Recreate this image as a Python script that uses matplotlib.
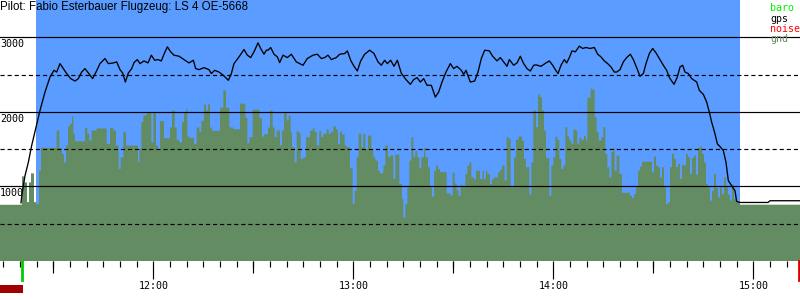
import matplotlib
matplotlib.use("Agg")
import matplotlib.pyplot as plt
from matplotlib.ticker import FixedLocator, MultipleLocator
from matplotlib.transforms import offset_copy

# Zeitachse: Minuten nach 11:00 Uhr
title = "Pilot: Fabio Esterbauer Flugzeug: LS 4 OE-5668"
x_range = (14.0, 254.0)
hour_ticks = [60, 120, 180, 240]
hour_labels = ["12:00", "13:00", "14:00", "15:00"]
half_hour_ticks = [30, 90, 150, 210]
y_max = 3500
solid_levels = [1000, 2000, 3000]
dashed_levels = [500, 1500, 2500]
flight_window = (24.8, 236.0)
takeoff_t = 20.6
landing_t = 253.6
pre_flight_bar = (14.0, 20.9)

legend_names = ["baro", "gps", "noise", "gnd"]
legend_colors = ["#00ee00", "#000000", "#ff0000", "#638c63"]

# Barometrische Hoehe
baro_t = [20.3, 20.6, 21.5, 22.5, 23.5, 24.8, 26.0, 27.5, 29.0, 30.2, 31.0, 32.0, 33.0, 34.0,
          35.2, 36.5, 37.5, 38.5, 39.5, 40.5, 41.8, 42.8, 44.0, 45.5, 46.5, 48.0, 49.0, 50.0,
          50.8, 51.6, 52.5, 53.5, 54.2, 55.2, 56.0, 57.2, 58.4, 59.4, 60.4, 61.4, 62.4, 63.2,
          64.2, 65.2, 66.2, 67.7, 69.2, 70.7, 72.0, 72.7, 73.7, 75.2, 76.7, 77.4, 78.4, 79.7,
          81.0, 82.5, 83.4, 84.2, 85.7, 87.2, 88.2, 89.2, 90.2, 91.4, 92.2, 93.2, 93.9, 94.4,
          95.2, 96.2, 97.2, 97.9, 98.9, 100.2, 101.4, 102.9, 104.9, 106.2, 107.9, 109.2, 110.4,
          111.4, 112.4, 113.4, 114.9, 115.9, 117.4, 118.2, 119.2, 120.2, 121.2, 122.2, 123.4,
          124.9, 126.2, 127.4, 128.4, 129.4, 130.2, 131.2, 132.2, 133.2, 134.4, 135.8, 137.1,
          138.1, 139.1, 140.1, 141.1, 142.1, 143.4, 144.6, 145.6, 146.6, 147.8, 149.1, 150.1,
          151.1, 152.4, 153.1, 153.8, 155.1, 156.4, 157.4, 158.4, 159.4, 160.8, 161.8, 163.1,
          164.1, 165.1, 166.1, 166.8, 168.1, 169.1, 170.1, 171.1, 172.1, 173.1, 174.1, 174.8,
          176.3, 177.8, 178.8, 179.8, 180.6, 181.4, 182.3, 183.3, 184.0, 184.8, 185.6, 186.6,
          187.8, 188.8, 189.8, 191.0, 192.3, 193.3, 194.3, 195.3, 196.3, 197.3, 198.3, 199.0,
          200.0, 201.0, 202.0, 203.1, 204.0, 205.0, 206.0, 207.0, 207.8, 208.8, 209.8, 210.8,
          212.0, 213.0, 214.0, 214.8, 216.2, 217.2, 218.0, 218.8, 219.5, 220.5, 221.5, 223.0,
          223.8, 225.0, 226.0, 226.8, 227.5, 228.5, 229.2, 230.0, 231.0, 231.8, 232.5, 233.5,
          234.5, 235.0, 236.0, 244.4, 245.0, 254.0]
baro_alt = [780, 898, 1144, 1323, 1548, 1794, 2019, 2265, 2467, 2557, 2534, 2647, 2580, 2513,
            2446, 2413, 2446, 2534, 2580, 2521, 2446, 2534, 2647, 2715, 2647, 2656, 2670, 2566,
            2521, 2400, 2521, 2580, 2660, 2701, 2647, 2683, 2656, 2760, 2692, 2701, 2683, 2773,
            2872, 2805, 2760, 2746, 2701, 2656, 2692, 2580, 2566, 2593, 2566, 2513, 2557, 2534,
            2490, 2423, 2513, 2647, 2737, 2836, 2760, 2728, 2805, 2925, 2850, 2773, 2827, 2827,
            2863, 2773, 2737, 2661, 2760, 2728, 2773, 2670, 2625, 2715, 2760, 2773, 2715,
            2728, 2760, 2701, 2728, 2773, 2782, 2818, 2692, 2611, 2548, 2683, 2773,
            2827, 2782, 2670, 2625, 2692, 2647, 2692, 2611, 2692, 2517, 2432, 2369,
            2432, 2459, 2400, 2446, 2356, 2356, 2198, 2265, 2400, 2534, 2647, 2580,
            2611, 2557, 2503, 2557, 2400, 2413, 2534, 2715, 2827, 2818, 2746, 2683,
            2728, 2670, 2611, 2701, 2625, 2656, 2746, 2647, 2580, 2548, 2625, 2630,
            2611, 2656, 2683, 2625, 2566, 2513, 2625, 2701, 2656, 2728, 2818, 2805,
            2881, 2850, 2863, 2850, 2863, 2773, 2737, 2683, 2647, 2602, 2534, 2534,
            2566, 2670, 2728, 2773, 2701, 2593, 2477, 2513, 2647, 2782, 2850, 2791,
            2701, 2625, 2557, 2460, 2369, 2467, 2602, 2625, 2534, 2513, 2446, 2400,
            2288, 2234, 2131, 1996, 1862, 1705, 1571, 1534, 1480, 1323, 1077, 1010,
            942, 798, 785, 785, 808, 808]

# Gelaendehoehe (Stufen, jeweils ab Zeitpunkt)
gnd_t = [14.0, 20.6, 21.2, 22.1, 22.7, 23.3, 24.2, 24.8, 25.7, 26.3, 31.0, 31.8, 32.6, 33.2,
         33.8, 34.4, 35.0, 35.6, 36.0, 36.5, 39.5, 40.2, 40.8, 41.5, 43.0, 46.0, 47.0, 48.0,
         48.8, 49.6, 50.2, 51.0, 51.8, 54.2, 55.4, 55.8, 56.4, 57.0, 58.0, 59.4, 60.0, 60.8,
         61.4, 62.0, 63.2, 65.0, 65.6, 66.4, 67.0, 67.8, 68.6, 69.2, 69.8, 70.2, 70.8, 72.2,
         73.0, 73.8, 74.4, 75.2, 75.8, 76.4, 77.0, 77.6, 80.0, 81.0, 81.8, 82.8, 84.0, 86.0,
         87.6, 88.2, 88.8, 89.8, 91.8, 92.6, 93.2, 94.4, 95.0, 95.8, 96.4, 97.0, 98.0, 98.6,
         99.2, 100.0, 100.6, 101.2, 101.6, 102.4, 103.0, 103.6, 104.2, 105.0, 105.8, 107.0,
         107.8, 108.4, 109.0, 109.8, 110.4, 111.0, 112.0, 112.6, 113.2, 114.0, 114.8, 115.4,
         116.0, 116.6, 117.4, 118.0, 119.0, 119.8, 120.4, 121.0, 121.6, 122.4, 123.0, 123.6,
         124.4, 125.4, 126.0, 126.6, 127.4, 128.0, 129.0, 129.6, 130.4, 131.0, 132.0, 132.6,
         133.8, 134.6, 135.0, 135.6, 136.2, 136.8, 137.4, 138.0, 138.6, 139.2, 139.8, 140.4,
         141.2, 141.6, 142.4, 143.0, 143.6, 144.2, 144.8, 145.4, 146.0, 148.0, 149.2, 149.8,
         150.4, 151.0, 151.6, 152.2, 152.8, 153.6, 154.2, 154.8, 155.4, 156.2, 156.8, 158.0,
         158.8, 159.2, 159.8, 160.2, 161.0, 161.6, 162.2, 163.4, 164.0, 164.6, 165.4, 166.0,
         166.6, 167.2, 168.2, 168.8, 169.6, 170.6, 171.2, 171.8, 172.8, 173.4, 174.0, 174.8,
         175.4, 176.0, 176.6, 177.2, 177.8, 178.8, 179.4, 180.0, 180.6, 181.2, 181.8, 182.4,
         183.0, 183.6, 184.2, 184.8, 185.4, 186.0, 186.6, 187.2, 187.8, 188.4, 189.2, 189.8,
         190.2, 191.2, 191.8, 192.4, 193.0, 193.6, 194.4, 195.0, 195.6, 196.2, 196.8, 197.4,
         198.0, 198.4, 199.0, 199.8, 200.6, 203.0, 203.6, 204.2, 204.8, 205.4, 206.0, 206.6,
         209.6, 210.2, 210.8, 211.4, 212.0, 212.6, 213.2, 213.8, 214.4, 215.0, 215.6, 216.2,
         216.8, 217.4, 218.0, 218.6, 219.2, 219.8, 220.4, 221.0, 221.6, 222.2, 222.8, 223.4,
         224.0, 224.6, 225.2, 225.8, 226.4, 227.0, 227.6, 228.2, 228.8, 229.4, 230.0, 230.6,
         231.2, 231.8, 232.4, 233.0, 233.6, 234.2, 234.8, 236.0, 254.0]
gnd_alt = [754, 1135, 1054, 790, 1054, 1175, 790, 763, 1211, 1517, 1750, 1517, 1436, 1323,
           1548, 1804, 1840, 1938, 1705, 1606, 1786, 1705, 1615, 1750, 1777, 1570, 1786, 1750,
           1548, 1234, 1391, 1727, 1548, 1548, 1323, 1503, 1862, 1952, 1983, 1592, 1996, 1548,
           1503, 1875, 1646, 1790, 2019, 1790, 1624, 1592, 1862, 1983, 2037, 1669, 1651, 1570,
           1790, 1732, 1880, 2100, 2019, 2100, 1790, 1745, 2055, 2288, 2055, 1790, 1767, 2109,
           1920, 1579, 1660, 2028, 1920, 1669, 1700, 1790, 2019, 1790, 1660, 1750, 1548, 1750,
           1996, 1884, 1952, 1727, 1525, 1323, 1741, 1714, 1369, 1391, 1660, 1745,
           1777, 1732, 1548, 1740, 1660, 1705, 1767, 1705, 1732, 1804, 1763, 1570,
           1732, 1696, 1548, 1525, 1248, 763, 942, 1391, 1705, 1525, 1705, 1503,
           1682, 1503, 1391, 1346, 1211, 1175, 1279, 1548, 1391, 1413, 1099, 1427,
           1032, 830, 583, 763, 987, 1346, 1660, 1391, 1471, 1391, 1248, 1391,
           1517, 1391, 1257, 987, 862, 1211, 1279, 1234, 1193, 907, 875, 1184,
           1041, 951, 875, 1023, 996, 1166, 1279, 1323, 1121, 1099, 1211, 1099,
           1211, 1099, 1211, 1166, 1032, 1099, 1121, 1188, 1220, 1279, 1077, 1660,
           1637, 987, 1391, 1624, 1669, 1615, 1369, 1257, 893, 1323, 2019, 1794,
           2234, 2198, 2019, 1750, 1382, 875, 1279, 1391, 1669, 1624, 1369, 1234,
           1279, 1794, 1669, 1615, 1570, 1767, 1750, 1570, 1651, 1624, 1678, 1615,
           2190, 2311, 2298, 1929, 1732, 1615, 1660, 1794, 1436, 1257, 1121, 1458,
           1517, 1211, 1413, 1166, 915, 875, 844, 898, 987, 1211, 1265, 1332,
           1188, 1400, 1279, 1257, 1121, 1257, 987, 763, 785, 1257, 1436, 1369,
           1257, 1301, 1099, 1292, 1279, 1436, 1391, 1166, 1382, 1413, 1157, 1517,
           1535, 1436, 1323, 1032, 987, 808, 942, 1166, 978, 853, 987, 898,
           1121, 987, 889, 808, 1023, 830, 785, 755, 755]

blue = "#5a9cff"
green = "#638c63"

fig = plt.figure(figsize=(8, 3), dpi=100)
ax = fig.add_axes([0, 39 / 300, 1, 261 / 300])
ax.set_xlim(*x_range)
ax.set_ylim(0, y_max)
for sp in ax.spines.values():
    sp.set_visible(False)

ax.axvspan(*flight_window, color=blue, lw=0, zorder=0)
ax.fill_between(gnd_t, gnd_alt, 0, step="post", color=green, lw=0, zorder=1)
for lev in solid_levels:
    ax.axhline(lev, color="black", lw=0.85, zorder=2)
for lev in dashed_levels:
    ax.axhline(lev, color="black", lw=0.85, ls=(0, (3.5, 2.5)), zorder=2)
ax.plot(baro_t, baro_alt, color="black", lw=0.95, zorder=3)

# Hoehenbeschriftung unter den Linien
lab_tr = offset_copy(ax.get_yaxis_transform(), fig=fig, x=0, y=-2, units="dots")
for lev in solid_levels:
    ax.text(0, lev, str(lev), transform=lab_tr, ha="left", va="top",
            family="DejaVu Sans Mono", size=7.2, color="black", zorder=4)

# Zeitachse
ax.yaxis.set_visible(False)
ax.xaxis.set_major_locator(FixedLocator(hour_ticks))
ax.set_xticklabels(hour_labels, family="DejaVu Sans Mono", size=7.2)
ax.xaxis.set_minor_locator(MultipleLocator(5))
ax.tick_params(axis="x", which="major", length=13.2, width=0.85, pad=1.5)
ax.tick_params(axis="x", which="minor", length=4.6, width=0.85)
sec = ax.secondary_xaxis("bottom")
sec.spines["bottom"].set_visible(False)
sec.set_xticks(half_hour_ticks)
sec.tick_params(length=8.4, width=0.85, labelbottom=False)

ax.axvline(takeoff_t, ymin=-0.073, ymax=0, color="#00cc00", lw=2, clip_on=False)
ax.axvline(landing_t, ymin=-0.073, ymax=0, color="#dd0000", lw=2, clip_on=False)
ax.axvspan(*pre_flight_bar, ymin=-0.121, ymax=-0.092, color="#a00000", lw=0, clip_on=False)

fig.text(0.0, 1 - 1 / 300, title, ha="left", va="top", family="Liberation Sans", size=8.3)
for i, (name, col) in enumerate(zip(legend_names, legend_colors)):
    fig.text(770 / 800, 1 - (11 + 10.5 * i) / 300, name, ha="left", va="baseline",
             family="DejaVu Sans Mono", size=7.2, color=col)

fig.savefig("out.png", dpi=100)
